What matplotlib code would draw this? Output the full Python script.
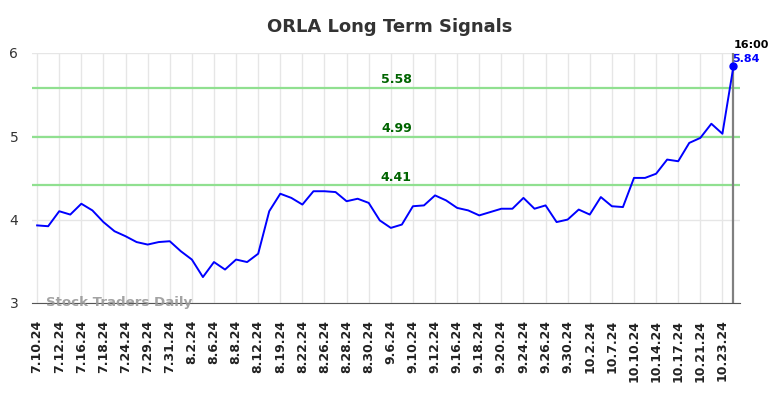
import matplotlib
matplotlib.use('Agg')
import matplotlib.pyplot as plt

# tick labels (every other trading day)
tick_labels = ['7.10.24', '7.12.24', '7.16.24', '7.18.24', '7.24.24', '7.29.24',
               '7.31.24', '8.2.24', '8.6.24', '8.8.24', '8.12.24', '8.19.24',
               '8.22.24', '8.26.24', '8.28.24', '8.30.24', '9.6.24', '9.10.24',
               '9.12.24', '9.16.24', '9.18.24', '9.20.24', '9.24.24', '9.26.24',
               '9.30.24', '10.2.24', '10.7.24', '10.10.24', '10.14.24', '10.17.24',
               '10.21.24', '10.23.24']

prices = [3.93, 3.92, 4.10, 4.06, 4.19, 4.11, 3.97, 3.86, 3.80, 3.73,
          3.70, 3.73, 3.74, 3.62, 3.52, 3.31, 3.49, 3.40, 3.52, 3.49,
          3.59, 4.10, 4.31, 4.26, 4.18, 4.34, 4.34, 4.33, 4.22, 4.25,
          4.20, 3.99, 3.90, 3.94, 4.16, 4.17, 4.29, 4.23, 4.14, 4.11,
          4.05, 4.09, 4.13, 4.13, 4.26, 4.13, 4.17, 3.97, 4.00, 4.12,
          4.06, 4.27, 4.16, 4.15, 4.50, 4.50, 4.55, 4.72, 4.70, 4.92,
          4.98, 5.15, 5.03, 5.84]

signals = [5.58, 4.99, 4.41]
last_time = '16:00'

x = list(range(len(prices)))

fig = plt.figure(figsize=(7.84, 3.98), dpi=100)
ax = fig.add_axes([0.041, 0.239, 0.903, 0.628])

ax.set_xlim(-0.45, 63.6)
ax.set_ylim(3, 6)

ax.set_xticks(x[::2])
ax.set_xticklabels(tick_labels, rotation=90, fontsize=9, fontweight='bold',
                   color='#222222')
ax.set_yticks([3, 4, 5, 6])
ax.tick_params(axis='x', length=0, pad=12)
ax.tick_params(axis='y', length=0, pad=10, labelsize=10, labelcolor='#333333')
ax.grid(True, color='#e6e6e6', linewidth=1)
ax.set_axisbelow(True)

for s in ['top', 'right', 'left']:
    ax.spines[s].set_visible(False)
ax.spines['bottom'].set_color('#555555')

for lvl in signals:
    ax.axhline(lvl, color='#90e090', linewidth=1.6, zorder=2)
    ax.text(32.5, lvl + 0.02, f'{lvl:.2f}', color='#006400', fontsize=9,
            fontweight='bold', ha='center', va='bottom')

ax.plot(x, prices, color='blue', linewidth=1.4, zorder=3)
ax.axvline(x[-1], color='#808080', linewidth=1.6, zorder=2)
ax.plot(x[-1], prices[-1], 'o', color='blue', markersize=5, zorder=4)

ax.annotate(last_time, (x[-1], 6), xytext=(0, 2), textcoords='offset points',
            fontsize=8, fontweight='bold', color='black', ha='left', va='bottom',
            annotation_clip=False)
ax.annotate(f'{prices[-1]:.2f}', (x[-1], 6), xytext=(-1, -8), textcoords='offset points',
            fontsize=8, fontweight='bold', color='blue', ha='left', va='bottom',
            annotation_clip=False)

ax.text(0.8, 3.0, 'Stock Traders Daily', fontsize=9.6, fontweight='bold',
        color='#999999', alpha=0.9, ha='left', va='center', zorder=5)

fig.suptitle('ORLA Long Term Signals', x=0.497, y=0.955, fontsize=13,
             fontweight='bold', color='#333333')

plt.savefig('out.png', dpi=100)
